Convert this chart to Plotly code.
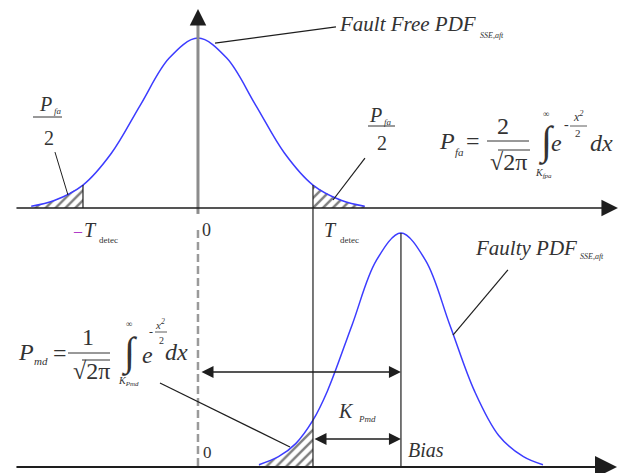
import plotly.graph_objects as go

# fault-free pdf of the test statistic (top panel): x in sigma units, y relative to the peak
free_x = [-2.9, -2.5, -2.0, -1.5, -1.0, -0.5, 0.0, 0.5, 1.0, 1.5, 2.0, 2.5, 2.9]
free_y = [0.01, 0.044, 0.135, 0.325, 0.607, 0.882, 1.0, 0.882, 0.607, 0.325, 0.135, 0.044, 0.01]

# faulty pdf (bottom panel), centred on the bias
faulty_x = [1.06, 1.40, 1.70, 2.00, 2.25, 2.68, 3.10, 3.53, 3.96, 4.38, 4.81, 5.23, 5.66, 6.00]
faulty_y = [0.01, 0.044, 0.10, 0.20, 0.324, 0.607, 0.882, 1.0, 0.882, 0.607, 0.324, 0.135, 0.044, 0.01]

t_detec = 2.0
bias = 3.53

# page body has an 8px margin, so the figure is a bit smaller than the window
OFF = 8
W, H = 634 - OFF, 473 - OFF
BLUE = '#3c3cff'
INK = '#1e1e1e'
TEXT = '#333333'
SERIF = 'Liberation Serif'

fig = go.Figure()


def tail(xs, ys, keep, axis):
    tx = [x for x in xs if keep(x)]
    ty = [y for x, y in zip(xs, ys) if keep(x)]
    fig.add_trace(go.Scatter(
        x=tx, y=ty, yaxis=axis, mode='lines',
        line=dict(width=0, shape='spline'),
        fill='tozeroy', fillcolor='white',
        fillpattern=dict(shape='/', fgcolor='#000000', bgcolor='white', size=7, solidity=0.35),
        hoverinfo='skip'))


# hatched tail areas
tail(free_x, free_y, lambda x: x <= -t_detec, 'y')
tail(free_x, free_y, lambda x: x >= t_detec, 'y')
tail(faulty_x, faulty_y, lambda x: x <= t_detec, 'y2')

# the two pdf curves
fig.add_trace(go.Scatter(x=free_x, y=free_y, yaxis='y', mode='lines',
                         line=dict(color=BLUE, width=1.5, shape='spline')))
fig.add_trace(go.Scatter(x=faulty_x, y=faulty_y, yaxis='y2', mode='lines',
                         line=dict(color=BLUE, width=1.5, shape='spline')))


def seg(x0, y0, x1, y1, yref='y', color=INK, width=1.2, dash=None):
    fig.add_shape(type='line', x0=x0, y0=y0, x1=x1, y1=y1, xref='x', yref=yref,
                  line=dict(color=color, width=width, dash=dash))


def arrow(x0, y0, x1, y1, yref='y', both=False, size=1.5, width=1.5, color=INK):
    fig.add_annotation(x=x1, y=y1, ax=x0, ay=y0, xref='x', yref=yref, axref='x', ayref=yref,
                       text='', showarrow=True, arrowhead=2, arrowsize=size, arrowwidth=width,
                       startarrowhead=2, startarrowsize=size,
                       arrowside='end+start' if both else 'end',
                       arrowcolor=color, standoff=0, startstandoff=0)


def txt(px, py, s, size=20, italic=False, color=TEXT, anchor='center'):
    fig.add_annotation(x=(px - OFF) / W, y=1 - (py - OFF) / H, xref='paper', yref='paper',
                       text=f'<i>{s}</i>' if italic else s, showarrow=False,
                       xanchor=anchor, yanchor='middle',
                       font=dict(family=SERIF, size=size, color=color))


def bar(px0, px1, py, width=1.0):
    y = 1 - (py - OFF) / H
    fig.add_shape(type='line', x0=(px0 - OFF) / W, x1=(px1 - OFF) / W, y0=y, y1=y,
                  xref='paper', yref='paper', line=dict(color=TEXT, width=width))


free_at = dict(zip(free_x, free_y))

# top panel axes and lines
arrow(-3.183, 0, 7.304, 0, 'y', size=2.2, width=1.5)
seg(0, -0.035, 0, 1.10, 'y', color='#8c8c8c', width=3)
arrow(0, 1.09, 0, 1.17, 'y', size=2.2, width=1.5)
seg(-t_detec, 0, -t_detec, free_at[-t_detec], 'y', width=1.2)
seg(t_detec, free_at[t_detec], t_detec, -0.1294, 'y', width=1.2)

# bottom panel axes and lines
seg(t_detec, 1.0128, t_detec, 0, 'y2', width=1.2)
seg(bias, max(faulty_y), bias, 0, 'y2', width=1.2)
seg(0, 1.0128, 0, 0, 'y2', color='#9a9a9a', width=2.5, dash='8px,4px')
arrow(-3.183, 0, 7.287, 0, 'y2', size=2.2, width=2)
arrow(0.035, 0.406, bias, 0.406, 'y2', both=True, size=1.6, width=1.5)
arrow(t_detec, 0.12, bias, 0.12, 'y2', both=True, size=1.6, width=1.5)

# leader lines
seg(0.296, 0.97, 2.40, 1.065, 'y')
seg(-2.487, 0.329, -2.261, 0.076, 'y', width=1)
seg(2.904, 0.294, 2.348, 0.047, 'y')
seg(5.39, 0.842, 4.435, 0.564, 'y2')
seg(-0.661, 0.359, 1.6, 0.0855, 'y2')

# --- text, top panel
txt(337, 24, 'Fault Free PDF', 21, True, anchor='left')
txt(478, 35, 'SSE,aft', 8, True, anchor='left')

txt(45, 104, 'P', 20, True)
txt(58, 111, 'fa', 9, True)
bar(33, 62, 117)
txt(49, 138, '2', 20)

txt(375, 115, 'P', 20, True)
txt(388, 122, 'fa', 9, True)
bar(368, 395, 126)
txt(382, 143, '2', 20)

txt(447, 141, 'P', 24, True)
txt(459, 152, 'fa', 11, True)
txt(473, 141, '=', 24)
txt(503, 126, '2', 24)
bar(487, 529, 141)
txt(508, 162, '√2π', 24)
bar(498, 530, 150)
txt(546, 142, '∫', 40)
txt(546, 114, '∞', 9)
txt(543, 173, 'K<sub>fpa</sub>', 10, True)
txt(556, 143, 'e', 24, True)
txt(566, 125, '-', 14)
txt(578, 117, 'x<sup>2</sup>', 12, True)
bar(570, 587, 126, 0.8)
txt(578, 133, '2', 11)
txt(601, 143, 'dx', 24, True)

txt(78, 231, '–', 16, color='#b03cc8')
txt(90, 230, 'T', 20, True)
txt(97, 240, 'detec', 9, anchor='left')
txt(206, 230, '0', 18)
txt(330, 230, 'T', 20, True)
txt(338, 240, 'detec', 9, anchor='left')

# --- text, bottom panel
txt(473, 248, 'Faulty PDF', 21, True, anchor='left')
txt(578, 256, 'SSE,aft', 8, True, anchor='left')

txt(26, 352, 'P', 24, True)
txt(41, 361, 'md', 11, True)
txt(60, 353, '=', 24)
txt(88, 337, '1', 24)
bar(68, 110, 353)
txt(91, 371, '√2π', 24)
bar(82, 110, 360)
txt(129, 352, '∫', 40)
txt(129, 324, '∞', 9)
txt(128, 381, 'K<sub>Pmd</sub>', 10, True)
txt(147, 355, 'e', 24, True)
txt(151, 332, '-', 12)
txt(160, 324, 'x<sup>2</sup>', 11, True)
bar(155, 167, 332, 0.8)
txt(161, 340, '2', 10)
txt(176, 352, 'dx', 24, True)

txt(207, 452, '0', 17)
txt(346, 411, 'K', 20, True)
txt(356, 419, 'Pmd', 9, True, anchor='left')
txt(426, 450, 'Bias', 20, True)

# axis ranges chosen so that the window pixels line up with the drawing
fig.update_layout(
    width=W, height=H,
    margin=dict(l=0, r=0, t=0, b=0),
    paper_bgcolor='white', plot_bgcolor='white',
    showlegend=False,
    xaxis=dict(range=[-3.304, 7.583], visible=False),
    yaxis=dict(domain=[0.5226, 1], range=[-0.1294, 1.1765], visible=False),
    yaxis2=dict(domain=[0, 0.5226], range=[-0.0256, 1.0128], visible=False, anchor='x'),
)

fig.write_html("out.html")
